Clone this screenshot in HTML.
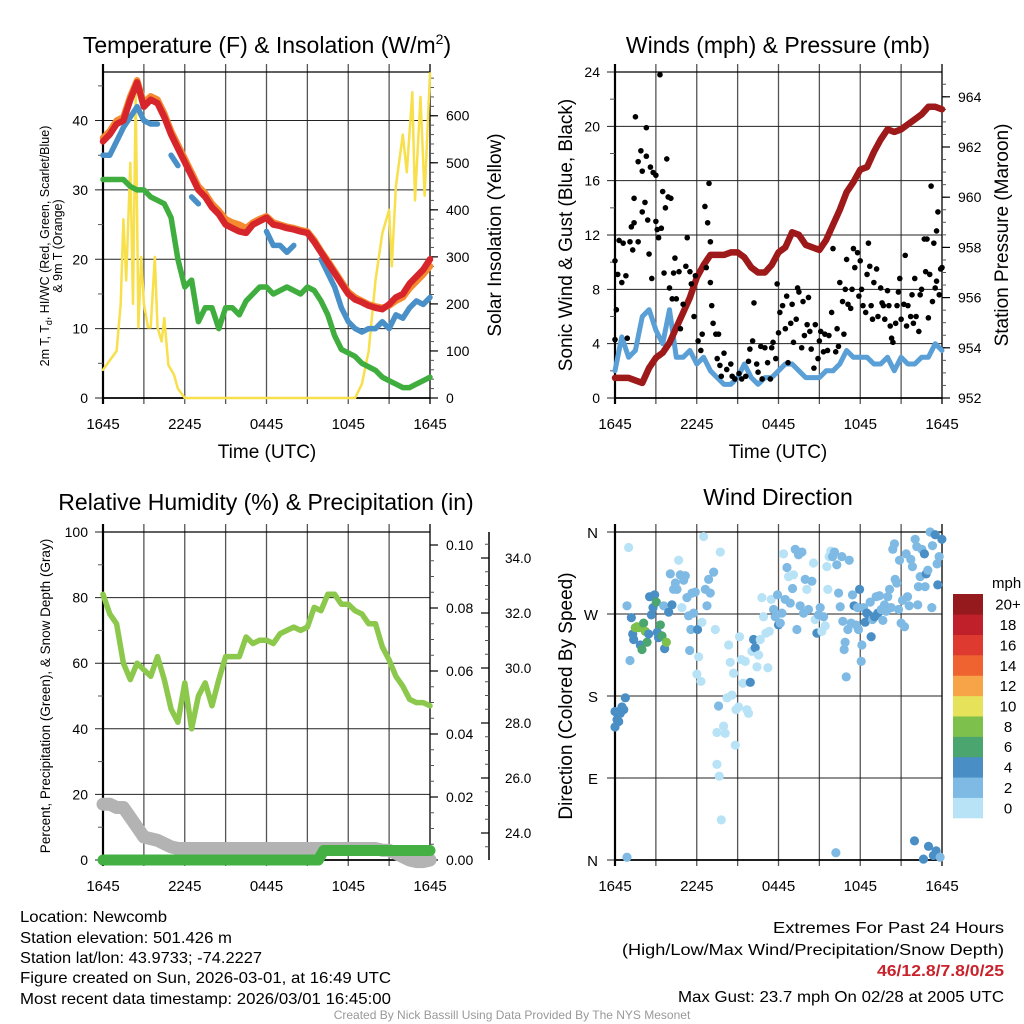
<!DOCTYPE html>
<html><head><meta charset="utf-8"><title>Newcomb Meteogram</title>
<style>
html,body{margin:0;padding:0;background:#fff;}
svg{display:block;font-family:"Liberation Sans",sans-serif;}
</style></head>
<body>
<svg id="chart" width="1024" height="1024" viewBox="0 0 1024 1024" xmlns="http://www.w3.org/2000/svg">
<rect width="1024" height="1024" fill="#fff"/>
<text x="267" y="53" font-size="23" text-anchor="middle">Temperature (F) &amp; Insolation (W/m<tspan dy="-9" font-size="14">2</tspan><tspan dy="9">)</tspan></text>
<text x="778" y="53" font-size="23" text-anchor="middle">Winds (mph) &amp; Pressure (mb)</text>
<text x="266" y="510" font-size="23" text-anchor="middle">Relative Humidity (%) &amp; Precipitation (in)</text>
<text x="778" y="505" font-size="23" text-anchor="middle">Wind Direction</text>

<text x="267" y="458" font-size="19" text-anchor="middle">Time (UTC)</text>
<text x="778" y="458" font-size="19" text-anchor="middle">Time (UTC)</text>

<text transform="translate(49,246) rotate(-90)" font-size="12.5" text-anchor="middle">2m T, T<tspan font-size="9" dy="3">d</tspan><tspan dy="-3">, HI/WC (Red, Green, Scarlet/Blue)</tspan></text>
<text transform="translate(62,246) rotate(-90)" font-size="12.5" text-anchor="middle">&amp; 9m T (Orange)</text>
<text transform="translate(501,235) rotate(-90)" font-size="19" text-anchor="middle">Solar Insolation (Yellow)</text>
<text transform="translate(572,235) rotate(-90)" font-size="19" text-anchor="middle">Sonic Wind &amp; Gust (Blue, Black)</text>
<text transform="translate(1008,235) rotate(-90)" font-size="19" text-anchor="middle">Station Pressure (Maroon)</text>
<text transform="translate(50,696) rotate(-90)" font-size="13.5" text-anchor="middle">Percent, Precipitation (Green), &amp; Snow Depth (Gray)</text>
<text transform="translate(572,696) rotate(-90)" font-size="19" text-anchor="middle">Direction (Colored By Speed)</text>

<g font-size="16">
<text x="20" y="922" textLength="147" lengthAdjust="spacingAndGlyphs">Location: Newcomb</text>
<text x="20" y="943" textLength="212" lengthAdjust="spacingAndGlyphs">Station elevation: 501.426 m</text>
<text x="20" y="963" textLength="242" lengthAdjust="spacingAndGlyphs">Station lat/lon: 43.9733; -74.2227</text>
<text x="20" y="983" textLength="371" lengthAdjust="spacingAndGlyphs">Figure created on Sun, 2026-03-01, at 16:49 UTC</text>
<text x="20" y="1004" textLength="371" lengthAdjust="spacingAndGlyphs">Most recent data timestamp: 2026/03/01 16:45:00</text>
<text x="773" y="933" textLength="231" lengthAdjust="spacingAndGlyphs">Extremes For Past 24 Hours</text>
<text x="622" y="955" textLength="382" lengthAdjust="spacingAndGlyphs">(High/Low/Max Wind/Precipitation/Snow Depth)</text>
<text x="877" y="976" fill="#c8232c" font-weight="bold" textLength="127" lengthAdjust="spacingAndGlyphs">46/12.8/7.8/0/25</text>
<text x="678" y="1002" textLength="326" lengthAdjust="spacingAndGlyphs">Max Gust: 23.7 mph On 02/28 at 2005 UTC</text>
<text x="512" y="1019" text-anchor="middle" font-size="12" fill="#999">Created By Nick Bassill Using Data Provided By The NYS Mesonet</text>
</g>
</svg>
<script>
// ---------- data ----------
const hours = [0,0.5,1,1.5,2,2.5,3,3.5,4,4.5,5,5.5,6,6.5,7,7.5,8,8.5,9,9.5,10,10.5,11,11.5,12,12.5,13,13.5,14,14.5,15,15.5,16,16.5,17,17.5,18,18.5,19,19.5,20,20.5,21,21.5,22,22.5,23,23.5,24];
const xTickLabels = ["1645","2245","0445","1045","1645"];
const tempRed = [37,38,39.5,40,43,45.5,42,43,42.5,40.5,38,36,34,32,30,29,27.5,26.5,25,24.5,24,23.8,25,25.5,26,25,24.8,24.5,24.3,24,23.8,22.5,21,19.5,18,16.5,15,14.2,13.8,13.3,13,12.8,13.5,14.5,15,16.5,17.5,18.5,20];
const tempOrange = [37.5,38.5,40,40.5,43.5,45.8,42.5,43.5,43,41,38.5,36.5,34.5,32.5,30.5,29.5,28,27,25.8,25.3,25,24.5,25.3,25.8,26.2,25.3,25,24.7,24.5,24.2,24,22.8,21.2,19.8,18.3,16.8,15.3,14.5,14,13.5,13.2,13,13.3,14,14.5,15.8,16.8,17.8,19];
const windChill = [35,35,37,39,40.5,42,40,39.5,39.5,null,35,33.5,null,29,28,null,null,null,null,null,null,null,null,null,24,22,22,21,22,null,null,null,20,18,16,13,11,10,9.5,10,10,11,10,12,11.5,13,14,13.5,14.5];
const dewPoint = [31.5,31.5,31.5,31.5,30.5,30,30,29,28.5,28,26,20,16,17,11,13,13,10,13,13,12,14,15,16,16,15,15.5,16,15.5,15,16,15.5,14,12,9,7,6.5,6,5,4.5,4,3,2.5,2,1.5,1.5,2,2.5,3];
const solarHours = [0,0.5,1,1.3,1.5,1.7,2,2.2,2.4,2.6,2.8,3,3.3,3.5,3.8,4,4.3,4.5,4.8,5.2,5.5,6,12,18.5,19,19.5,20,20.5,21,21.2,21.5,22,22.3,22.7,22.9,23.3,23.6,24];
const solarVals = [60,80,100,200,380,250,500,200,650,150,300,200,150,150,300,150,120,170,70,50,20,0,0,0,30,100,250,350,400,280,450,560,480,650,420,640,430,690];
const tempTicks = [0,10,20,30,40];
const solarTicks = [0,100,200,300,400,500,600];

const windSpeed = [2,4.5,3,3.5,6,6.5,5,4,6.5,3,3,3.5,2.5,3,2,1.5,1,1,1.5,2.5,1.5,1,1.5,1.5,2,2.5,2.5,2,1.5,1.5,1.5,2,2,2.5,3.5,3,3,3,2.5,2.5,3,2,3,2.5,2.5,3,3,4,3.5];
const pressure = [952.8,952.8,952.8,952.7,952.6,953.2,953.6,953.8,954.2,954.8,955.4,956.0,956.8,957.3,957.7,957.7,957.7,957.8,957.8,957.6,957.2,957.0,957.0,957.3,957.8,958.0,958.6,958.5,958.1,958.0,957.9,958.3,958.9,959.5,960.2,960.6,961.1,961.2,961.8,962.3,962.7,962.6,962.7,962.9,963.1,963.3,963.6,963.6,963.5];
const gustPoints = [[0,4.3],[0,10.1],[0.1,6.5],[0.2,9.1],[0.3,11.6],[0.5,8.5],[0.6,11.4],[0.8,9],[0.9,4.4],[1.1,11.5],[1.2,12.6],[1.3,10.9],[1.4,12.9],[1.4,14.7],[1.5,20.7],[1.7,17.4],[1.7,11.5],[1.9,18.2],[2,13.7],[2.0,16.7],[2.2,14.4],[2.3,19.9],[2.3,17.8],[2.4,13.1],[2.5,10.6],[2.6,17],[2.7,8.8],[2.8,16.6],[3,13],[3,16.4],[3.1,12.4],[3.2,11.8],[3.3,23.8],[3.4,12.5],[3.5,15.2],[3.6,9.2],[3.7,14],[3.8,17.6],[3.9,14.8],[4,8.1],[4.1,14.7],[4.2,7.3],[4.3,9.2],[4.4,10.3],[4.5,7.3],[4.7,9.3],[4.8,5.1],[5,6.9],[5.2,9.7],[5.3,11.8],[5.5,9.3],[5.6,8.4],[5.8,6],[5.9,9],[6.1,4.2],[6.3,3.5],[6.4,4.7],[6.6,14.1],[6.7,9.6],[6.8,12.9],[6.9,15.8],[7,8.5],[7,11.5],[7.1,6.8],[7.2,5.5],[7.4,4.7],[7.5,2.9],[7.6,4.7],[7.7,2.4],[7.8,1.6],[8,3.3],[8.2,2.1],[8.5,2.5],[8.6,1.6],[8.8,1.4],[9.1,1.8],[9.3,1.4],[9.6,1.6],[9.8,2.7],[9.9,3.6],[10.1,4.2],[10.2,7],[10.4,2.5],[10.5,1.9],[10.7,3.8],[10.8,1.4],[11,3.7],[11.2,2.6],[11.4,1.4],[11.5,3.7],[11.6,4.1],[11.8,2.9],[11.9,8.4],[12,4.8],[12.1,6.3],[12.3,6.8],[12.5,5.1],[12.6,7.5],[12.7,2.6],[12.9,5.5],[13,6.9],[13.1,4.1],[13.3,5.8],[13.4,8.1],[13.5,7.8],[13.7,3.7],[13.8,7.1],[13.9,4.6],[14.1,5.4],[14.2,7.4],[14.3,4.9],[14.4,3.6],[14.6,2.2],[14.7,5.4],[14.9,2.9],[15,4.2],[15.1,4.9],[15.3,3.4],[15.4,4.7],[15.6,3.5],[15.7,4.6],[15.9,6.3],[16,11],[16.2,3.4],[16.3,5.1],[16.4,3.8],[16.5,8.5],[16.7,7.1],[16.8,4.7],[16.9,8],[17,10.2],[17.1,6.9],[17.3,6.6],[17.4,8],[17.5,11],[17.6,9.6],[17.8,10.7],[17.9,7.5],[18,10.1],[18.1,8],[18.2,6.8],[18.4,6.3],[18.5,9.1],[18.6,11.4],[18.7,9.7],[18.8,6.8],[18.9,5.8],[19,8.5],[19.2,9.5],[19.3,6],[19.5,8.1],[19.6,7],[19.7,6.8],[19.8,5.8],[20,7.9],[20.1,6.8],[20.2,5.3],[20.3,4.4],[20.4,4.1],[20.6,5.5],[20.7,6.8],[20.8,7.8],[20.9,8.8],[21,5.8],[21.2,6.9],[21.3,10.5],[21.4,5.3],[21.5,6.8],[21.7,6],[21.8,7.6],[21.9,5.5],[22,8.8],[22.1,6],[22.3,4.9],[22.4,7.6],[22.5,8],[22.7,11.7],[22.8,9.3],[22.9,11.7],[23,5.9],[23.1,9.1],[23.2,15.6],[23.3,7.1],[23.4,11.4],[23.5,8.1],[23.6,12.3],[23.6,8.6],[23.7,13.7],[23.8,7.6],[23.9,9.5],[24,9.6]];
const windTicks = [0,4,8,12,16,20,24];
const pressureTicks = [952,954,956,958,960,962,964];

const relHumidity = [81,75,72,60,55,60,58,56,62,55,46,42,54,40,50,54,47,55,62,62,62,68,66,67,67,66,69,70,71,70,71,77,76,81,81,78,78,76,75,72,72,65,61,56,53,49,48,48,47];
const snowDepth = [17,17,16,16,13,10,7,6.5,6,5,4,3.5,3.5,3.5,3.5,3.5,3.5,3.5,3.5,3.5,3.5,3.5,3.5,3.5,3.5,3.5,3.5,3.5,3.5,3.5,3.5,3.5,3.5,3.5,3.5,3.5,3.5,3.5,3.5,3.5,3.5,3,3,2,1,0,-0.5,-0.5,0];
const precipHours = [0,15.8,16.2,24];
const precipVals = [0,0,0.003,0.003];
const rhTicks = [0,20,40,60,80,100];
const precipTicks = [0,0.02,0.04,0.06,0.08,0.10];
const axis2Ticks = [24,26,28,30,32,34];

const dirPoints = [[0,163,5],[0,146,5],[0.15,154,5],[0.27,152,5],[0.39,161,5],[0.51,168,5],[0.64,165,5],[0.76,178,5],[0.88,3,3],[1.0,343,1],[0.88,279,3],[1.1,219,3],[1.2,266,5],[1.3,248,5],[1.37,242,5],[1.49,255,9],[1.61,256,9],[1.74,255,9],[1.86,236,5],[1.98,231,7],[2.1,260,7],[2.22,251,9],[2.35,239,7],[2.47,248,5],[2.54,289,5],[2.67,269,5],[2.79,277,5],[2.91,291,5],[3.03,283,7],[3.1,250,5],[3.2,244,5],[3.33,258,7],[3.45,246,7],[3.57,279,3],[3.64,232,5],[3.77,239,9],[3.94,272,5],[4.06,314,3],[4.18,280,5],[4.3,297,3],[4.43,304,3],[4.55,297,3],[4.67,329,1],[4.79,313,3],[4.91,277,1],[5.04,307,3],[5.16,312,3],[5.28,288,3],[5.4,268,3],[5.48,230,3],[5.57,253,3],[5.65,293,3],[5.77,271,3],[5.89,294,3],[6.01,204,1],[6.06,253,5],[6.14,223,1],[6.31,196,1],[6.38,261,1],[6.5,355,1],[6.63,297,3],[6.75,279,3],[6.87,308,3],[6.99,293,3],[7.24,316,3],[7.36,253,1],[7.48,105,1],[7.6,169,3],[7.65,92,1],[7.73,338,1],[7.8,44,1],[7.48,140,1],[7.97,147,1],[8.09,139,1],[8.22,178,1],[8.34,236,1],[8.46,217,1],[8.58,181,1],[8.7,205,1],[8.83,126,1],[8.88,165,1],[9.07,168,1],[9.14,245,1],[9.27,220,1],[9.39,194,1],[9.56,218,1],[9.68,165,1],[9.8,161,1],[9.93,195,5],[10.05,229,1],[10.17,242,5],[10.29,233,5],[10.42,212,1],[10.54,225,1],[10.66,242,1],[10.78,288,1],[10.9,267,1],[11.08,249,1],[11.22,211,1],[11.32,251,1],[11.47,286,1],[11.64,275,3],[11.76,267,3],[11.93,291,3],[12,258,5],[12.13,260,3],[12.25,271,3],[12.37,336,1],[12.49,286,3],[12.62,321,3],[12.74,311,1],[12.86,282,3],[13.03,298,3],[13.1,313,1],[13.23,341,3],[13.35,253,3],[13.47,335,3],[13.59,279,3],[13.72,338,3],[13.84,271,3],[13.96,308,3],[14.08,297,1],[14.2,275,3],[14.45,306,3],[14.57,326,1],[14.69,264,1],[14.82,249,5],[14.94,269,3],[15.06,277,3],[15.18,251,1],[15.31,267,3],[15.43,257,1],[15.55,322,1],[15.62,297,1],[15.72,333,1],[15.84,339,1],[15.97,333,3],[16.11,338,3],[16.21,8,3],[16.28,324,3],[16.41,293,3],[16.53,278,3],[16.65,333,3],[16.72,262,3],[16.82,231,3],[16.89,239,3],[16.97,201,3],[17.09,253,3],[17.19,329,3],[17.33,260,3],[17.43,291,3],[17.55,279,5],[17.68,258,3],[17.8,277,3],[17.87,253,3],[17.95,297,5],[18.07,218,3],[18.12,236,3],[18.24,277,3],[18.36,261,5],[18.48,271,5],[18.61,269,5],[18.73,283,3],[18.8,245,5],[18.9,264,3],[19.05,267,5],[19.17,289,3],[19.29,271,5],[19.41,290,3],[19.54,275,3],[19.66,263,3],[19.78,280,3],[19.9,273,3],[20.02,289,3],[20.15,297,3],[20.27,277,3],[20.39,341,3],[20.51,347,3],[20.56,308,3],[20.68,304,3],[20.81,275,3],[20.88,329,3],[21,260,3],[21.1,285,3],[21.25,256,3],[21.37,336,3],[21.47,289,3],[21.59,279,3],[21.71,330,3],[21.83,322,3],[21.98,21,5],[22.03,352,3],[22.15,344,3],[22.22,280,3],[22.27,300,3],[22.4,311,3],[22.52,341,3],[22.64,1,5],[22.71,336,5],[22.76,300,3],[22.84,314,5],[22.96,318,3],[23.01,15,5],[23.13,360,3],[23.25,277,3],[23.3,345,3],[23.37,5,5],[23.5,357,5],[23.57,10,5],[23.64,325,3],[23.69,302,5],[23.79,333,3],[23.86,3,3],[23.99,352,5]];
const dirTicks = [0,90,180,270,360];
const dirLabels = ["N","E","S","W","N"];
const speedBinLabels = ["0","2","4","6","8","10","12","14","16","18","20+"];
const speedColors = ["#b8e2f6","#7fbae4","#4a8ec6","#4aa56f","#7dc04b","#e6e25a","#f7a448","#ef6331","#de3a2f","#c0202a","#951a1d"];

// ---------- helpers ----------
const NS = "http://www.w3.org/2000/svg";
const svg = document.getElementById("chart");
function mk(tag, attrs, parent){
  const e = document.createElementNS(NS, tag);
  for (const k in attrs) e.setAttribute(k, attrs[k]);
  (parent||svg).appendChild(e);
  return e;
}
function linePath(xs, ys, fx, fy){
  let d = "", pen = false;
  for (let i=0;i<xs.length;i++){
    if (ys[i]===null){ pen=false; continue; }
    d += (pen?"L":"M") + fx(xs[i]).toFixed(1) + "," + fy(ys[i]).toFixed(1);
    pen = true;
  }
  return d;
}
function makePanel(L,R,T,B){
  return {L,R,T,B, x:h=>L+h*(R-L)/24};
}
function drawFrame(p, name, hGridVals, yFn){
  const g = mk("g",{});
  
  
  for (let h=3; h<24; h+=3){
    const v = mk("line",{x1:p.x(h),x2:p.x(h),y1:p.T-8,y2:p.B+6,stroke:"#555","stroke-width":1.3},g);
    
    
  }
  hGridVals.forEach(val=>{
    const y = yFn(val);
    const hl = mk("line",{x1:p.L-8,x2:p.R,y1:y,y2:y,stroke:"#222","stroke-width":1},g);
    
    
  });
  const ax = mk("line",{x1:p.L,x2:p.L,y1:p.T-8,y2:p.B+6,stroke:"#000","stroke-width":2.2},g);
  
  
  const ax2 = mk("line",{x1:p.R,x2:p.R,y1:p.T-8,y2:p.B+6,stroke:"#000","stroke-width":1.3},g);
  
  
  const bt = mk("line",{x1:p.L,x2:p.R,y1:p.B,y2:p.B,stroke:"#000","stroke-width":1.8},g);
  
  
  const tp = mk("line",{x1:p.L,x2:p.R,y1:p.T,y2:p.T,stroke:"#000","stroke-width":1.2},g);
  
  
  xTickLabels.forEach((lab,i)=>{
    const t = mk("text",{x:p.x(i*6),y:p.B+31,"font-size":15,"text-anchor":"middle"});
    t.textContent = lab;
    
    
  });
}
function leftLabels(p, vals, yFn, fmt, name, xr){
  vals.forEach(v=>{
    const t = mk("text",{x:xr, y:yFn(v)+5,"font-size":14,"text-anchor":"end"});
    t.textContent = fmt(v);
    
    
  });
}
function minorTicks(x, from, to, step, yFn, dir, len, name){
  for (let v=from; v<=to+1e-9; v+=step){
    const y = yFn(v);
    const l = mk("line",{x1:x,x2:x+dir*len,y1:y,y2:y,stroke:"#555","stroke-width":1});
    
    
  }
}
function rightAxis(p, vals, yFn, fmt, name, x, lx){
  vals.forEach(v=>{
    const y = yFn(v);
    const l = mk("line",{x1:x,x2:x+8,y1:y,y2:y,stroke:"#000","stroke-width":1.2});
    
    
    const t = mk("text",{x:lx, y:y+5,"font-size":14});
    t.textContent = fmt(v);
    
    
  });
}
function series(d, color, w, name){
  const e = mk("path",{d:d,fill:"none",stroke:color,"stroke-width":w,"stroke-linejoin":"round","stroke-linecap":"round"});
  
  
  return e;
}

// ---------- Panel 1: temperature ----------
const p1 = makePanel(103,430,72,398);
const y1 = v => p1.B - v*(p1.B-p1.T)/47;
const y1r = v => p1.B - v*(p1.B-p1.T)/693;
drawFrame(p1,"temp",tempTicks,y1);
minorTicks(p1.L,5,45,10,y1,-1,5,"temp-left");
leftLabels(p1,tempTicks,y1,v=>String(v),"temp",88);
minorTicks(p1.R,20,680,20,y1r,1,4,"solar");
rightAxis(p1,solarTicks,y1r,v=>String(v),"solar-axis",p1.R,446);
series(linePath(solarHours,solarVals,p1.x,y1r),"#f7e04b",2.5,"solar-line");
series(linePath(hours,dewPoint,p1.x,y1),"#3fae3f",5.5,"dewpoint-line");
series(linePath(hours,windChill,p1.x,y1),"#4a90c8",5.5,"windchill-line");
series(linePath(hours,tempOrange,p1.x,y1),"#f58a30",6.5,"9m-temp-line");
series(linePath(hours,tempRed,p1.x,y1),"#d7262b",6.5,"2m-temp-line");

// ---------- Panel 2: wind & pressure ----------
const p2 = makePanel(615,942,72,398);
const y2 = v => p2.B - v*(p2.B-p2.T)/24;
const y2r = v => p2.B - (v-952)*25.1;
drawFrame(p2,"wind",windTicks,y2);
minorTicks(p2.L,2,22,4,y2,-1,5,"wind-left");
leftLabels(p2,windTicks,y2,v=>String(v),"wind",600);
minorTicks(p2.R,952.5,964.5,0.5,y2r,1,4,"pressure");
rightAxis(p2,pressureTicks,y2r,v=>String(v),"pressure-axis",p2.R,958);
series(linePath(hours,windSpeed,p2.x,y2),"#5a9fd6",5,"wind-speed-line");
series(linePath(hours,pressure,p2.x,y2r),"#9e1a1a",6.5,"pressure-line");
gustPoints.forEach(pt=>{
  const c = mk("circle",{cx:p2.x(pt[0]),cy:y2(pt[1]),r:2.8,fill:"#000"});
  
  
});

// ---------- Panel 3: RH & precip ----------
const p3 = makePanel(103,430,532,860);
const y3 = v => p3.B - v*(p3.B-p3.T)/100;
const y3r = v => p3.B - v*3150;
const y3b = v => 833 - (v-24)*27.5;
drawFrame(p3,"rh",rhTicks,y3);
minorTicks(p3.L,10,90,20,y3,-1,5,"rh-left");
leftLabels(p3,rhTicks,y3,v=>String(v),"rh",88);
minorTicks(p3.R,0.005,0.1,0.005,y3r,1,4,"precip");
rightAxis(p3,precipTicks,y3r,v=>v.toFixed(2),"precip-axis",p3.R,446);
const a2 = mk("line",{x1:489,x2:489,y1:532,y2:860,stroke:"#000","stroke-width":1.5});


minorTicks(489,23.5,34.5,0.5,y3b,-1,4,"snow-axis");
axis2Ticks.forEach(v=>{
  const y = y3b(v);
  const l = mk("line",{x1:489,x2:481,y1:y,y2:y,stroke:"#000","stroke-width":1.2});
  
  
  const t = mk("text",{x:505,y:y+5,"font-size":13.5});
  t.textContent = v.toFixed(1);
  
  
});
series(linePath(hours,snowDepth,p3.x,y3),"#b3b3b3",13,"snow-depth-line");
series(linePath(precipHours,precipVals,p3.x,y3r),"#44b044",11,"precip-line");
series(linePath(hours,relHumidity,p3.x,y3),"#8cc84b",5.5,"rh-line");

// ---------- Panel 4: wind direction ----------
const p4 = makePanel(615,942,532,860);
const y4 = v => p4.B - v*(p4.B-p4.T)/360;
drawFrame(p4,"dir",dirTicks,y4);
dirTicks.forEach((v,i)=>{
  const t = mk("text",{x:598,y:y4(v)+6,"font-size":15,"text-anchor":"end"});
  t.textContent = dirLabels[i];
  
  
});
dirPoints.forEach(pt=>{
  const bin = Math.min(10, Math.floor(pt[2]/2));
  const c = mk("circle",{cx:p4.x(pt[0]),cy:y4(pt[1]),r:4.6,fill:speedColors[bin]});
  
  
});
// colorbar
const cbT = 594, cbB = 818, cbH = (cbB-cbT)/speedColors.length;
speedColors.forEach((col,i)=>{
  const y = cbB - (i+1)*cbH;
  const r = mk("rect",{x:953,y:y,width:30,height:cbH+0.3,fill:col});
  
  
  const t = mk("text",{x:1008,y:y+cbH/2+5.5,"font-size":15,"text-anchor":"middle"});
  t.textContent = speedBinLabels[i];
  
  
});
const mph = mk("text",{x:992,y:588,"font-size":15});
mph.textContent = "mph";


</script>
</body></html>
